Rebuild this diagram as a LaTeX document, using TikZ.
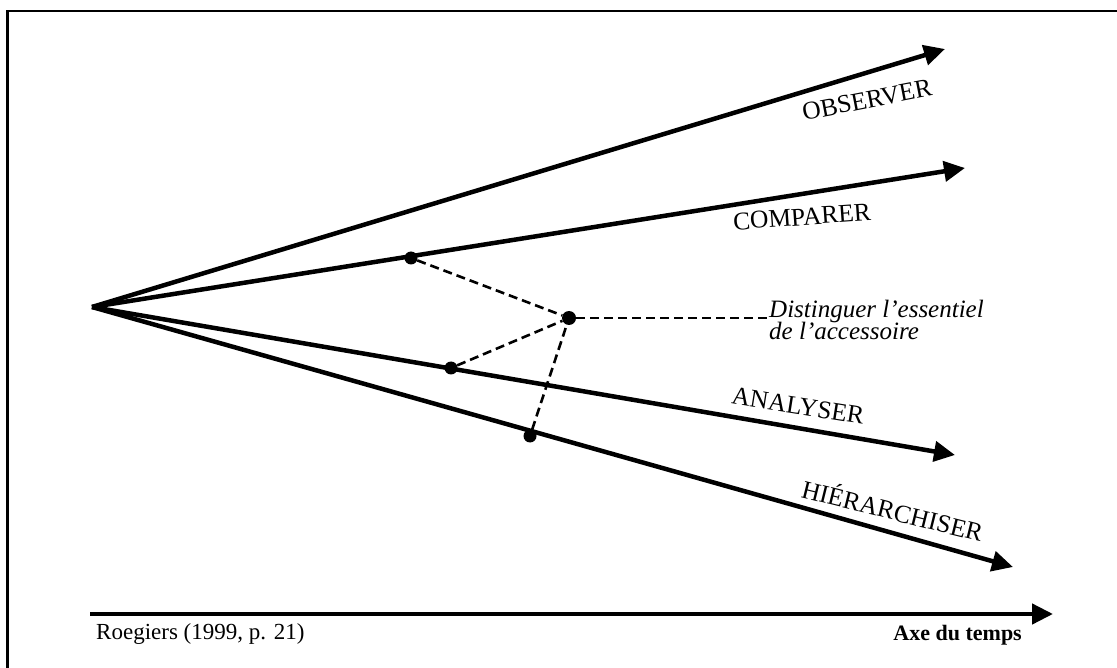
\documentclass[tikz,border=0pt]{standalone}
\usepackage{fontspec}
\setmainfont{Liberation Serif}
\usetikzlibrary{arrows.meta}
\begin{document}
\begin{tikzpicture}[x=1pt,y=-1pt,
  ray/.style={line width=4.5pt, -{Triangle[length=21pt,width=20pt]}},
  link/.style={line width=2.6pt, dash pattern=on 9pt off 5pt},
  dot/.style={circle, fill=black, inner sep=0pt, minimum size=13pt},
  verb/.style={inner sep=0pt, font=\fontsize{25.5}{30}\selectfont},
  note/.style={inner sep=0pt, anchor=base west, font=\fontsize{25}{30}\selectfont\itshape},
  foot/.style={inner sep=0pt, font=\fontsize{23}{27}\selectfont}]
\useasboundingbox (0,0) rectangle (1117,668);

% frame
\draw[line width=2.5pt] (7.5,668) -- (7.5,11) -- (1117,11);

% common origin and arrow ends
\coordinate (o) at (92,307);
\coordinate (tobs) at (945,49);
\coordinate (tcmp) at (965,168);
\coordinate (tana) at (955,455);
\coordinate (thie) at (1013,567);

\draw[ray] (o) -- (tobs);
\draw[ray] (o) -- (tcmp);
\draw[ray] (o) -- (tana);
\draw[ray] (o) -- (thie);

% labels of the four operations
\node[verb, rotate=11] (lobs) at (867,100) {OBSERVER};
\node[verb, rotate=4] (lcmp) at (802,217) {COMPARER};
\node[verb, rotate=-9] (lana) at (798,406) {ANALYSER};
\node[verb, rotate=-14] (lhie) at (893,509) {HIÉRARCHISER};

% points joined to the common idea
\node[dot] (d1) at (411,258) {};
\node[dot] (d2) at (451,368) {};
\node[dot] (d3) at (530,436) {};
\node[dot, minimum size=14pt] (c) at (569,318) {};

\node[note] (dist) at (769,318) {Distinguer l’essentiel};
\node[note] (dist2) at (769,340) {de l’accessoire};

\draw[link] (d1) -- (c);
\draw[link] (d2) -- (c);
\draw[link] (d3) -- (c);
\draw[link] (c) -- (dist.base west);

% time axis
\coordinate (a0) at (90,614);
\coordinate (a1) at (1053,614);
\draw[ray] (a0) -- (a1);
\node[foot, anchor=base west] (src) at (96,639) {Roegiers (1999, p. 21)};
\node[foot, anchor=base east, font=\fontsize{22}{26}\selectfont\bfseries] (axe) at (1022,640) {Axe du temps};
\end{tikzpicture}
\end{document}
